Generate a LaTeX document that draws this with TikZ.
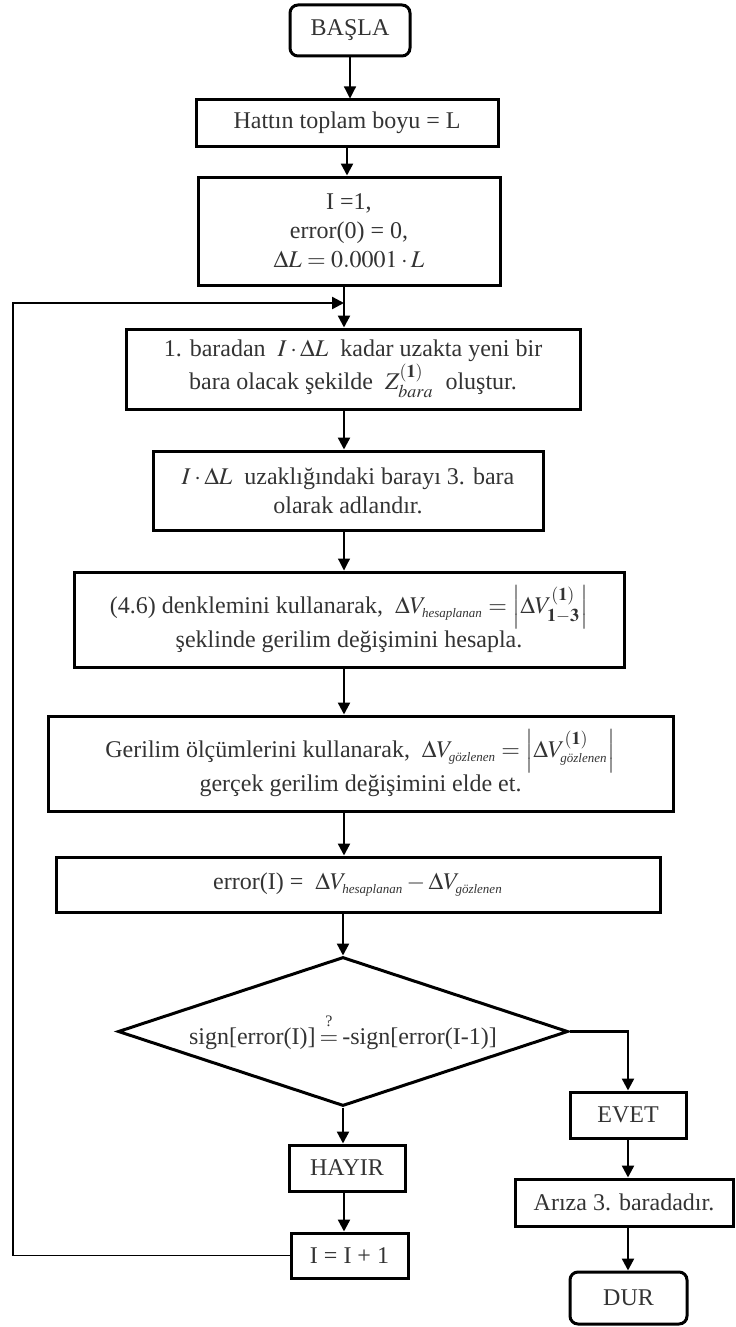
\documentclass[tikz,border=0pt]{standalone}
\usepackage{amsmath}
\usepackage{mathptmx}
\usepackage{fontspec}
\setmainfont{Liberation Serif}
\usepackage{tikz}
\usetikzlibrary{shapes.geometric, arrows.meta}
\definecolor{yaziRenk}{HTML}{333333}
\newcommand{\gozl}{\text{\fontsize{6.5}{7}\selectfont\itshape g\"ozlenen}}
\newcommand{\hesp}{\text{\fontsize{6.5}{7}\selectfont\itshape hesaplanan}}

\begin{document}
\begin{tikzpicture}[x=0.5pt, y=-0.5pt,
    every node/.style={font=\fontsize{12}{14.5}\selectfont, text=yaziRenk},
    procbox/.style={draw, line width=1.5pt, align=center, inner sep=2pt},
    startstop/.style={procbox, rounded corners=4pt},
    decision/.style={draw, diamond, aspect=3, inner sep=0pt, line width=1.5pt},
    flow/.style={line width=1.2pt, -{Triangle[length=6pt,width=6pt]}},
    flowthin/.style={line width=0.6pt, -{Triangle[length=6pt,width=6pt]}}]
    \useasboundingbox (0,0) rectangle (735,1327);

    \coordinate (col) at (344,0);
    \coordinate (merge) at (344,303);
    \coordinate (lp) at (13,0);

    % ana sutun
    \node[startstop, minimum width=60pt, minimum height=25.5pt] (basla) at (350,30.5) {BAŞLA};
    \node[procbox, minimum width=151pt, minimum height=23pt] (hat) at (347,123) {Hattın toplam boyu = L};
    \node[procbox, minimum width=151pt, minimum height=54pt] (init) at (349,231)
        {I =1,\\ error(0) = 0,\\ $\Delta L = 0.0001\cdot L$};
    \node[procbox, minimum width=227pt, minimum height=40pt] (bara) at (353,369)
        {1. baradan \ $I\cdot\Delta L$ \ kadar uzakta yeni bir\\
         bara olacak şekilde \ $Z^{\mathbf{(1)}}_{bara}$ \ oluştur.};
    \node[procbox, minimum width=195pt, minimum height=39.5pt] (adlan) at (348,490.5)
        {$I\cdot\Delta L$ \ uzaklığındaki barayı 3. bara\\ olarak adlandır.};
    \node[procbox, minimum width=275pt, minimum height=47.5pt] (hesap) at (349,619.5)
        {(4.6) denklemini kullanarak, \ $\Delta V_{\hesp} = \left|\Delta V^{\mathbf{(1)}}_{\mathbf{1-3}}\right|$\\
         şeklinde gerilim değişimini hesapla.};
    \node[procbox, minimum width=312.5pt, minimum height=47.5pt] (olcum) at (360.5,763.5)
        {Gerilim ölçümlerini kullanarak, \ $\Delta V_{\gozl} = \left|\Delta V^{\mathbf{(1)}}_{\gozl}\right|$\\
         gerçek gerilim değişimini elde et.};
    \node[procbox, minimum width=302pt, minimum height=27.5pt] (err) at (358,884.5)
        {error(I) = \ $\Delta V_{\hesp} - \Delta V_{\gozl}$};
    \node[decision, minimum width=225pt, minimum height=74.5pt] (karar) at (343,1031.5)
        {sign[error(I)]\,$\overset{\raisebox{2pt}{\footnotesize ?}}{=}$\,-sign[error(I-1)]};

    % dallar
    \node[procbox, minimum width=58pt, minimum height=23pt] (hayir) at (347,1168) {HAYIR};
    \node[procbox, minimum width=58.5pt, minimum height=22.5pt] (artir) at (349.5,1255.5) {I = I + 1};
    \node[procbox, minimum width=58pt, minimum height=23pt] (evet) at (628,1115) {EVET};
    \node[procbox, minimum width=109pt, minimum height=23.5pt] (ariza) at (624,1202.5) {Arıza 3. baradadır.};
    \node[startstop, minimum width=58.5pt, minimum height=26pt] (dur) at (628.5,1298) {DUR};

    % baglantilar
    \draw[flowthin] (basla.south) -- (basla.south |- hat.north);
    \draw[flow] (hat.south) -- (hat.south |- init.north);
    \draw[flow] (init.south -| col) -- (bara.north -| col);
    \draw[flow] (bara.south -| col) -- (adlan.north -| col);
    \draw[flowthin] (adlan.south -| col) -- (hesap.north -| col);
    \draw[flow] (hesap.south -| col) -- (olcum.north -| col);
    \draw[flow] (olcum.south -| col) -- (err.north -| col);
    \draw[flow] (err.south -| karar.north) -- (karar.north);
    \draw[flow] (karar.south) -- (karar.south |- hayir.north);
    \draw[flow] (hayir.south -| col) -- (artir.north -| col);
    \draw[flow] (karar.east) -| (evet.north);
    \draw[flow] (evet.south) -- (evet.south |- ariza.north);
    \draw[flow] (evet.south |- ariza.south) -- (evet.south |- dur.north);

    % geri donus
    \draw[line width=0.6pt] (artir.west) -- (artir.west -| lp);
    \draw[flow] (artir.west -| lp) |- (merge);
\end{tikzpicture}
\end{document}
